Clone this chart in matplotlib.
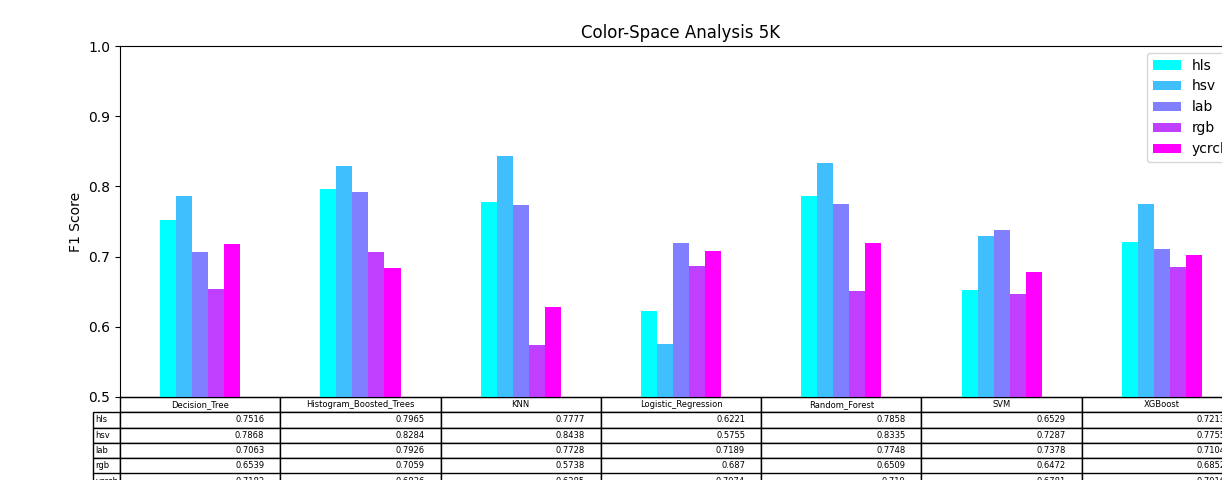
import matplotlib
matplotlib.use("Agg")
import matplotlib.pyplot as plt
from matplotlib.table import Table
import numpy as np

models = ["Decision_Tree", "Histogram_Boosted_Trees", "KNN", "Logistic_Regression",
          "Random_Forest", "SVM", "XGBoost"]
spaces = ["hls", "hsv", "lab", "rgb", "ycrcb"]

hls = [0.7516, 0.7965, 0.7777, 0.6221, 0.7858, 0.6529, 0.7213]
hsv = [0.7868, 0.8284, 0.8438, 0.5755, 0.8335, 0.7287, 0.7755]
lab = [0.7063, 0.7926, 0.7728, 0.7189, 0.7748, 0.7378, 0.7104]
rgb = [0.6539, 0.7059, 0.5738, 0.687, 0.6509, 0.6472, 0.6852]
ycrcb = [0.7182, 0.6836, 0.6285, 0.7074, 0.719, 0.6781, 0.7016]

series = [hls, hsv, lab, rgb, ycrcb]
colors = plt.get_cmap("cool")(np.linspace(0, 1, len(spaces)))

W, H = 1222, 480
fig = plt.figure(figsize=(W / 100, H / 100), dpi=100)
ax_left, ax_right, ax_top, ax_bottom = 120, 1242, 46, 397
ax = fig.add_axes([ax_left / W, 1 - ax_bottom / H,
                   (ax_right - ax_left) / W, (ax_bottom - ax_top) / H])

x = np.arange(len(models))
bw = 0.1
for i, (name, vals) in enumerate(zip(spaces, series)):
    ax.bar(x + (i - 2) * bw, vals, width=bw, color=colors[i], label=name)

ax.set_xlim(-0.5, len(models) - 0.5)
ax.set_ylim(0.5, 1.0)
ax.set_yticks([0.5, 0.6, 0.7, 0.8, 0.9, 1.0])
ax.set_ylabel("F1 Score")
ax.set_title("Color-Space Analysis 5K", fontsize=12)
ax.xaxis.set_visible(False)
ax.legend(loc="upper right")

# values table under the bars (bbox covers the value grid; row labels sit to its left)
axw = ax_right - ax_left
axh = ax_bottom - ax_top
row_lbl_w = 27 / axw
row_h = 15.3 / axh
col_w = 1 / len(models)
n_rows = len(spaces) + 1
tbl = Table(ax, bbox=[0, -row_h * n_rows, 1, row_h * n_rows])
for j, m in enumerate(models):
    tbl.add_cell(0, j, width=col_w, height=row_h, text=m, loc="center")
for i, (name, vals) in enumerate(zip(spaces, series)):
    tbl.add_cell(i + 1, -1, width=row_lbl_w, height=row_h, text=name, loc="left")
    for j, v in enumerate(vals):
        tbl.add_cell(i + 1, j, width=col_w, height=row_h, text=f"{v:g}", loc="right")
tbl.auto_set_font_size(False)
tbl.set_fontsize(6)
ax.add_table(tbl)

fig.savefig("out.png", dpi=100)
